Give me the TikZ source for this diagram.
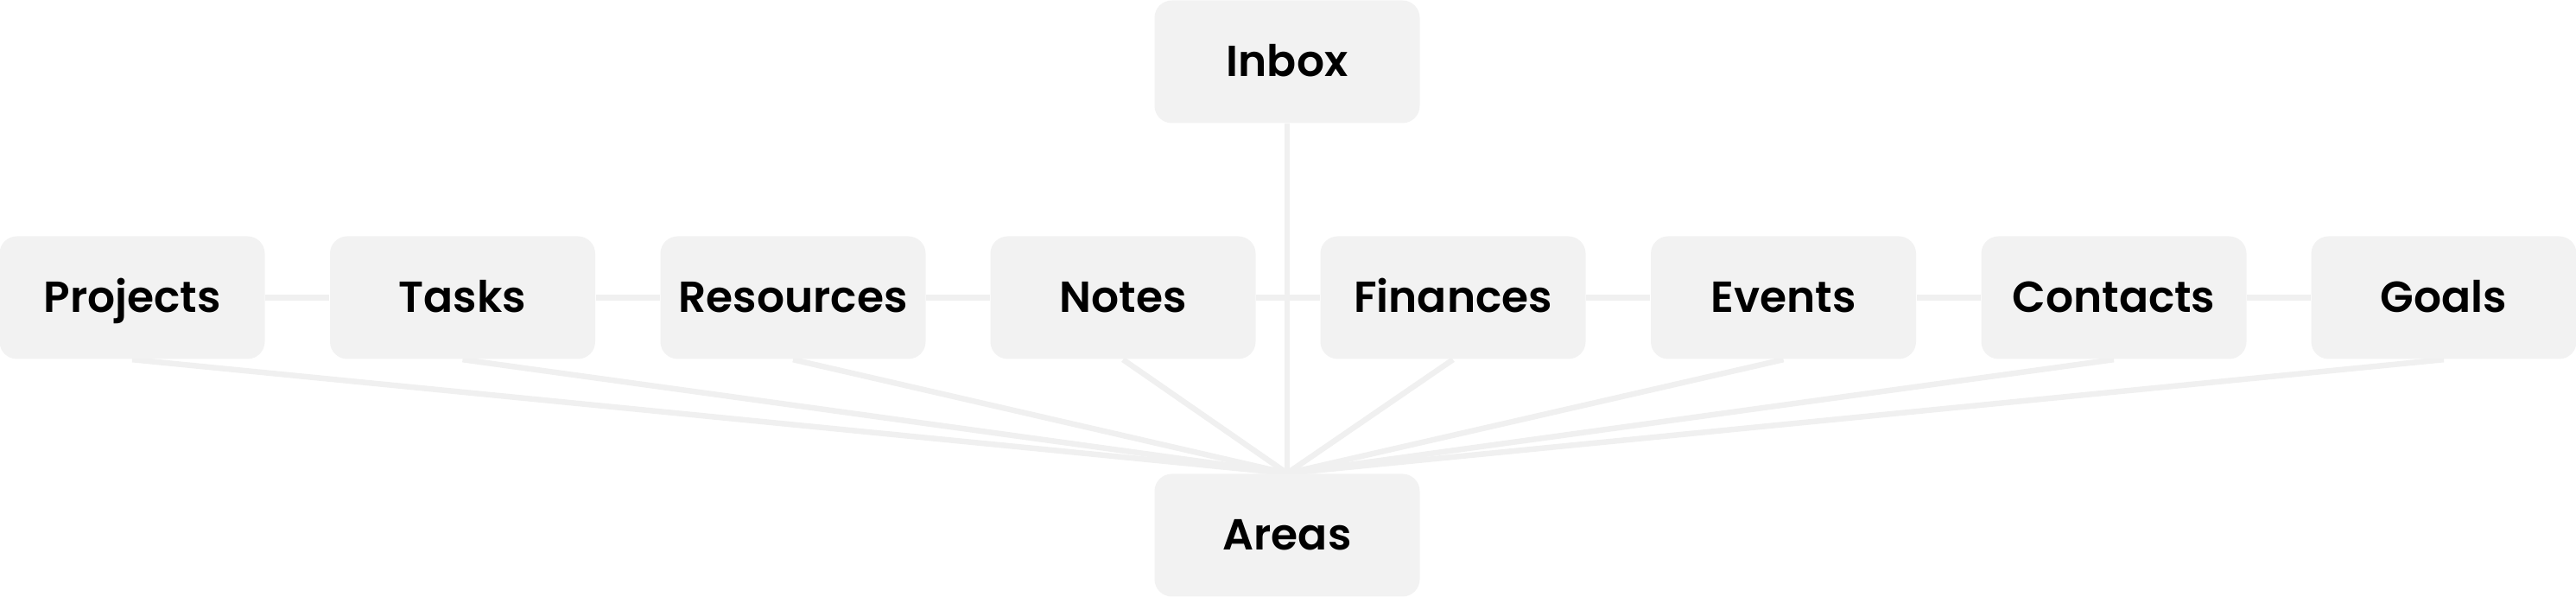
\documentclass[tikz,border=0pt]{standalone}
\usepackage{fontspec}
\setmainfont{Poppins}
\newfontface\semib{Poppins SemiBold}
\usetikzlibrary{backgrounds}
\definecolor{boxgray}{HTML}{F2F2F2}
\definecolor{linegray}{HTML}{F0F0F0}
\tikzset{
  box/.style={rectangle, rounded corners=0.2cm, fill=boxgray, minimum width=3.07cm, minimum height=1.42cm, inner sep=0pt, text height=0.35cm, text depth=0cm, font=\semib\fontsize{14.3}{17}\selectfont, text=black},
  link/.style={draw=linegray, line width=0.065cm}
}
\begin{document}
\begin{tikzpicture}
\useasboundingbox (0,0) rectangle (29.82,-6.91);
\node[box] (inbox) at (14.90,-0.715) {Inbox};
\node[box] (projects) at (1.53,-3.445) {Projects};
\node[box] (tasks) at (5.355,-3.445) {Tasks};
\node[box] (resources) at (9.18,-3.445) {Resources};
\node[box] (notes) at (13.00,-3.445) {Notes};
\node[box] (finances) at (16.82,-3.445) {Finances};
\node[box] (events) at (20.645,-3.445) {Events};
\node[box] (contacts) at (24.47,-3.445) {Contacts};
\node[box] (goals) at (28.29,-3.445) {Goals};
\node[box] (areas) at (14.90,-6.195) {Areas};
\begin{pgfonlayer}{background}
\draw[link] (inbox.south) -- (areas.north);
\draw[link] (projects) -- (tasks) -- (resources) -- (notes) -- (finances) -- (events) -- (contacts) -- (goals);
\foreach \n in {projects,tasks,resources,notes,finances,events,contacts,goals}
  \draw[link] (\n.south) -- (areas.north);
\end{pgfonlayer}
\end{tikzpicture}
\end{document}
